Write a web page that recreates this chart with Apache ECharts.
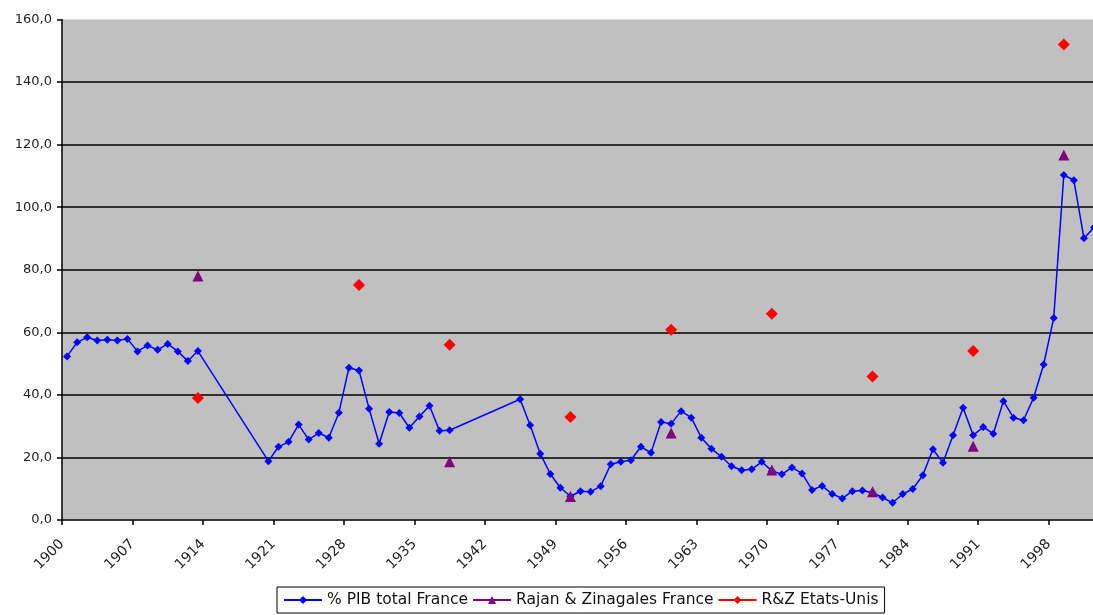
<!DOCTYPE html>
<html>
<head>
<meta charset="utf-8">
<script src="https://cdn.jsdelivr.net/npm/echarts@6/dist/echarts.min.js"></script>
<style>
html,body{margin:0;padding:0;background:#fff;}
#chart{width:1093px;height:615px;}
</style>
</head>
<body>
<div id="chart"></div>
<script>
// % PIB total France
var pibYears = [1900,1901,1902,1903,1904,1905,1906,1907,1908,1909,1910,1911,1912,1913,
  1920,1921,1922,1923,1924,1925,1926,1927,1928,1929,1930,1931,1932,1933,1934,1935,1936,1937,1938,
  1945,1946,1947,1948,1949,1950,1951,1952,1953,1954,1955,1956,1957,1958,1959,1960,1961,1962,1963,1964,
  1965,1966,1967,1968,1969,1970,1971,1972,1973,1974,1975,1976,1977,1978,1979,1980,1981,1982,1983,1984,
  1985,1986,1987,1988,1989,1990,1991,1992,1993,1994,1995,1996,1997,1998,1999,2000,2001,2002];
var pibValues = [52.3,56.8,58.4,57.4,57.6,57.4,57.9,53.9,55.8,54.4,56.3,53.9,50.8,54.0,
  18.8,23.4,25.0,30.5,25.7,27.8,26.3,34.3,48.7,47.8,35.6,24.4,34.5,34.2,29.5,33.1,36.5,28.5,28.7,
  38.6,30.3,21.2,14.7,10.3,7.6,9.2,9.0,10.8,17.8,18.6,19.1,23.4,21.5,31.3,30.8,34.8,32.7,26.3,22.8,
  20.2,17.2,15.9,16.2,18.6,15.7,14.6,16.8,14.9,9.6,10.9,8.3,6.9,9.2,9.4,8.7,7.2,5.5,8.3,9.9,
  14.3,22.6,18.3,27.1,35.9,27.1,29.7,27.6,38.0,32.7,31.9,39.1,49.7,64.6,110.3,108.6,90.1,93.5];
// Rajan & Zinagales France
var rzFrYears = [1913,1938,1950,1960,1970,1980,1990,1999];
var rzFrValues = [78.0,18.6,7.5,27.8,16.0,9.0,23.6,116.7];
// R&Z Etats-Unis
var rzUsYears = [1913,1929,1938,1950,1960,1970,1980,1990,1999];
var rzUsValues = [39.0,75.1,56.0,32.9,60.8,65.9,45.9,54.0,152.0];
// axis
var firstYear = 1900;
var visibleSpan = 102.4;   // years visible up to the right edge (chart is cropped there)
var labelStep = 7;
var yTicks = [0,20,40,60,80,100,120,140,160];

function toX(y){ return y - firstYear + 0.5; }
function pairs(years, vals){ return years.map(function(y,i){ return [toX(y), vals[i]]; }); }
function gapped(years, vals){
  var out = [];
  pairs(years, vals).forEach(function(p){ out.push(p); out.push([p[0], null]); });
  return out;
}

var font = 'DejaVu Sans';
var chart = echarts.init(document.getElementById('chart'), null, {renderer:'canvas'});
chart.setOption({
  animation: false,
  backgroundColor: '#ffffff',
  grid: {left: 62, right: 0, top: 19.5, bottom: 95, show: true, backgroundColor: '#C0C0C0',
         borderColor: '#C0C0C0', borderWidth: 0},
  xAxis: {
    type: 'value', min: 0, max: visibleSpan, interval: labelStep,
    axisLine: {show: true, onZero: false, lineStyle: {color: '#000', width: 1.5}},
    axisTick: {show: true, inside: false, length: 5, lineStyle: {color: '#000', width: 1.5}},
    splitLine: {show: false},
    axisLabel: {rotate: 45, margin: 22, color: '#222', fontFamily: font, fontSize: 14, showMaxLabel: false,
      formatter: function(v){ return String(firstYear + v); }}
  },
  yAxis: {
    type: 'value', min: yTicks[0], max: yTicks[yTicks.length-1], interval: 20,
    axisLine: {show: true, lineStyle: {color: '#000', width: 1.5}},
    axisTick: {show: true, length: 5, lineStyle: {color: '#000', width: 1.5}},
    splitLine: {show: true, showMinLine: false, showMaxLine: false, lineStyle: {color: '#000', width: 1.5}},
    axisLabel: {margin: 10, color: '#222', fontFamily: font, fontSize: 13,
      formatter: function(v){ return v.toFixed(1).replace('.', ','); }}
  },
  legend: {
    left: 277, top: 587, padding: [5, 6, 5, 6], borderColor: '#000', borderWidth: 1,
    itemGap: 4, itemWidth: 38, itemHeight: 10,
    textStyle: {color: '#111', fontFamily: font, fontSize: 15.5},
    data: ['% PIB total France', 'Rajan & Zinagales France', 'R&Z Etats-Unis']
  },
  series: [
    {name: '% PIB total France', type: 'line', data: pairs(pibYears, pibValues),
     color: '#0000FF', lineStyle: {color: '#0000FF', width: 1.5},
     symbol: 'diamond', symbolSize: 8, showSymbol: true, showAllSymbol: true, clip: false,
     itemStyle: {color: '#0000FF'}},
    {name: 'Rajan & Zinagales France', type: 'line', data: gapped(rzFrYears, rzFrValues),
     color: '#800080', lineStyle: {color: '#800080', width: 1.5}, connectNulls: false,
     symbol: 'triangle', symbolSize: 11, showSymbol: true, showAllSymbol: true,
     itemStyle: {color: '#800080'}},
    {name: 'R&Z Etats-Unis', type: 'line', data: gapped(rzUsYears, rzUsValues),
     color: '#FF0000', lineStyle: {color: '#FF0000', width: 1.5}, connectNulls: false,
     symbol: 'diamond', symbolSize: 12, showSymbol: true, showAllSymbol: true,
     itemStyle: {color: '#FF0000'}}
  ]
});
</script>
</body>
</html>
